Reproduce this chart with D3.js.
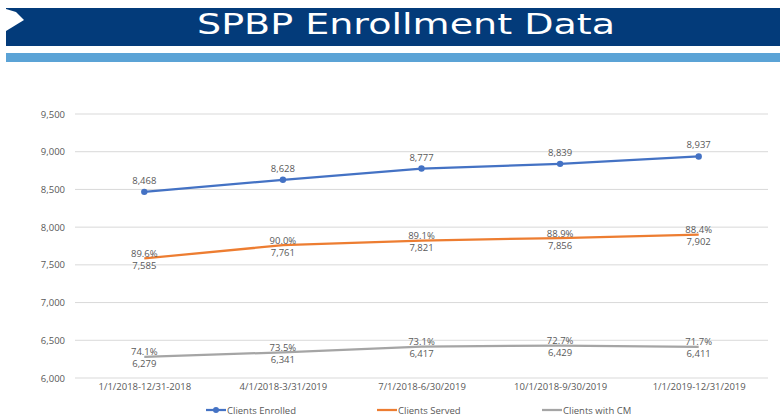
<!DOCTYPE html>
<html><head><meta charset="utf-8">
<script src="https://cdn.jsdelivr.net/npm/d3@7"></script>
<style>
body{margin:0;background:#fff;}
svg text{font-family:"Open Sans","Noto Sans",sans-serif;}
</style></head>
<body><svg id="c" width="780" height="417"></svg>
<script>
const title = "SPBP Enrollment Data";
const categories = ["1/1/2018-12/31-2018","4/1/2018-3/31/2019","7/1/2018-6/30/2019","10/1/2018-9/30/2019","1/1/2019-12/31/2019"];
const enrolled = [8468, 8628, 8777, 8839, 8937];
const served = [7585, 7761, 7821, 7856, 7902];
const servedPct = ["89.6%","90.0%","89.1%","88.9%","88.4%"];
const withCM = [6279, 6341, 6417, 6429, 6411];
const cmPct = ["74.1%","73.5%","73.1%","72.7%","71.7%"];
const yTicks = [6000, 6500, 7000, 7500, 8000, 8500, 9000, 9500];
const seriesNames = ["Clients Enrolled","Clients Served","Clients with CM"];
const colors = ["#4472C4","#ED7D31","#A5A5A5"];

const svg = d3.select("#c");
// header
svg.append("rect").attr("x",6).attr("y",8).attr("width",774).attr("height",38).attr("fill","#033B7A");
svg.append("path").attr("d","M6,9 L16,12 L24,20 L6,31 Z").attr("fill","#fff");
svg.append("rect").attr("x",6).attr("y",53).attr("width",774).attr("height",9).attr("fill","#5BA3D6");
svg.append("text").attr("x",197).attr("y",34).attr("textLength",418).attr("lengthAdjust","spacingAndGlyphs")
  .attr("fill","#fff").style("font-family","'DejaVu Sans',Verdana,sans-serif").style("font-size","29px").text(title);

const x = d3.scalePoint().domain(categories).range([75,768]).padding(0.5);
const y = d3.scaleLinear().domain([6000,9500]).range([378,114]);
const fmt = d3.format(",");

// gridlines
svg.append("g").selectAll("line").data(yTicks).join("line")
  .attr("x1",75).attr("x2",768).attr("y1",d=>y(d)).attr("y2",d=>y(d))
  .attr("stroke","#d9d9d9").attr("stroke-width",1);

// y axis labels
const yAxis = d3.axisLeft(y).tickValues(yTicks).tickFormat(fmt).tickSize(0).tickPadding(0);
const gy = svg.append("g").attr("transform","translate(65,0)").call(yAxis);
gy.select(".domain").remove();
gy.selectAll("text").attr("fill","#595959").style("font-size","9.5px");

// x axis labels
const xAxis = d3.axisBottom(x).tickSize(0).tickPadding(0);
const gx = svg.append("g").attr("transform","translate(0,383)").call(xAxis);
gx.select(".domain").remove();
gx.selectAll("text").attr("fill","#595959").style("font-size","9.5px");

const line = d3.line().x((d,i)=>x(categories[i])).y(d=>y(d));
const data = [enrolled, served, withCM];
data.forEach((s,k)=>{
  svg.append("path").datum(s).attr("d",line).attr("fill","none")
    .attr("stroke",colors[k]).attr("stroke-width",2.25).attr("stroke-linejoin","round");
});
svg.append("g").selectAll("circle").data(enrolled).join("circle")
  .attr("cx",(d,i)=>x(categories[i])).attr("cy",d=>y(d)).attr("r",3.2).attr("fill",colors[0]);

const lbl = svg.append("g").style("font-size","9.5px").attr("fill","#595959").attr("text-anchor","middle");
enrolled.forEach((v,i)=>{
  lbl.append("text").attr("x",x(categories[i])).attr("y",y(v)-8).text(fmt(v));
});
[[served,servedPct],[withCM,cmPct]].forEach(([vals,pcts])=>{
  vals.forEach((v,i)=>{
    lbl.append("text").attr("x",x(categories[i])).attr("y",y(v)-1.5).text(pcts[i]);
    lbl.append("text").attr("x",x(categories[i])).attr("y",y(v)+10.5).text(fmt(v));
  });
});

// legend
const legX = [206, 377, 542];
const lg = svg.append("g");
seriesNames.forEach((n,k)=>{
  const g = lg.append("g").attr("transform",`translate(${legX[k]},410)`);
  g.append("line").attr("x1",0).attr("x2",20).attr("stroke",colors[k]).attr("stroke-width",2.25);
  if(k===0) g.append("circle").attr("cx",10).attr("r",3).attr("fill",colors[k]);
  g.append("text").attr("x",21).attr("y",3.5).attr("fill","#595959").style("font-size","9.5px").text(n);
});
</script></body></html>
